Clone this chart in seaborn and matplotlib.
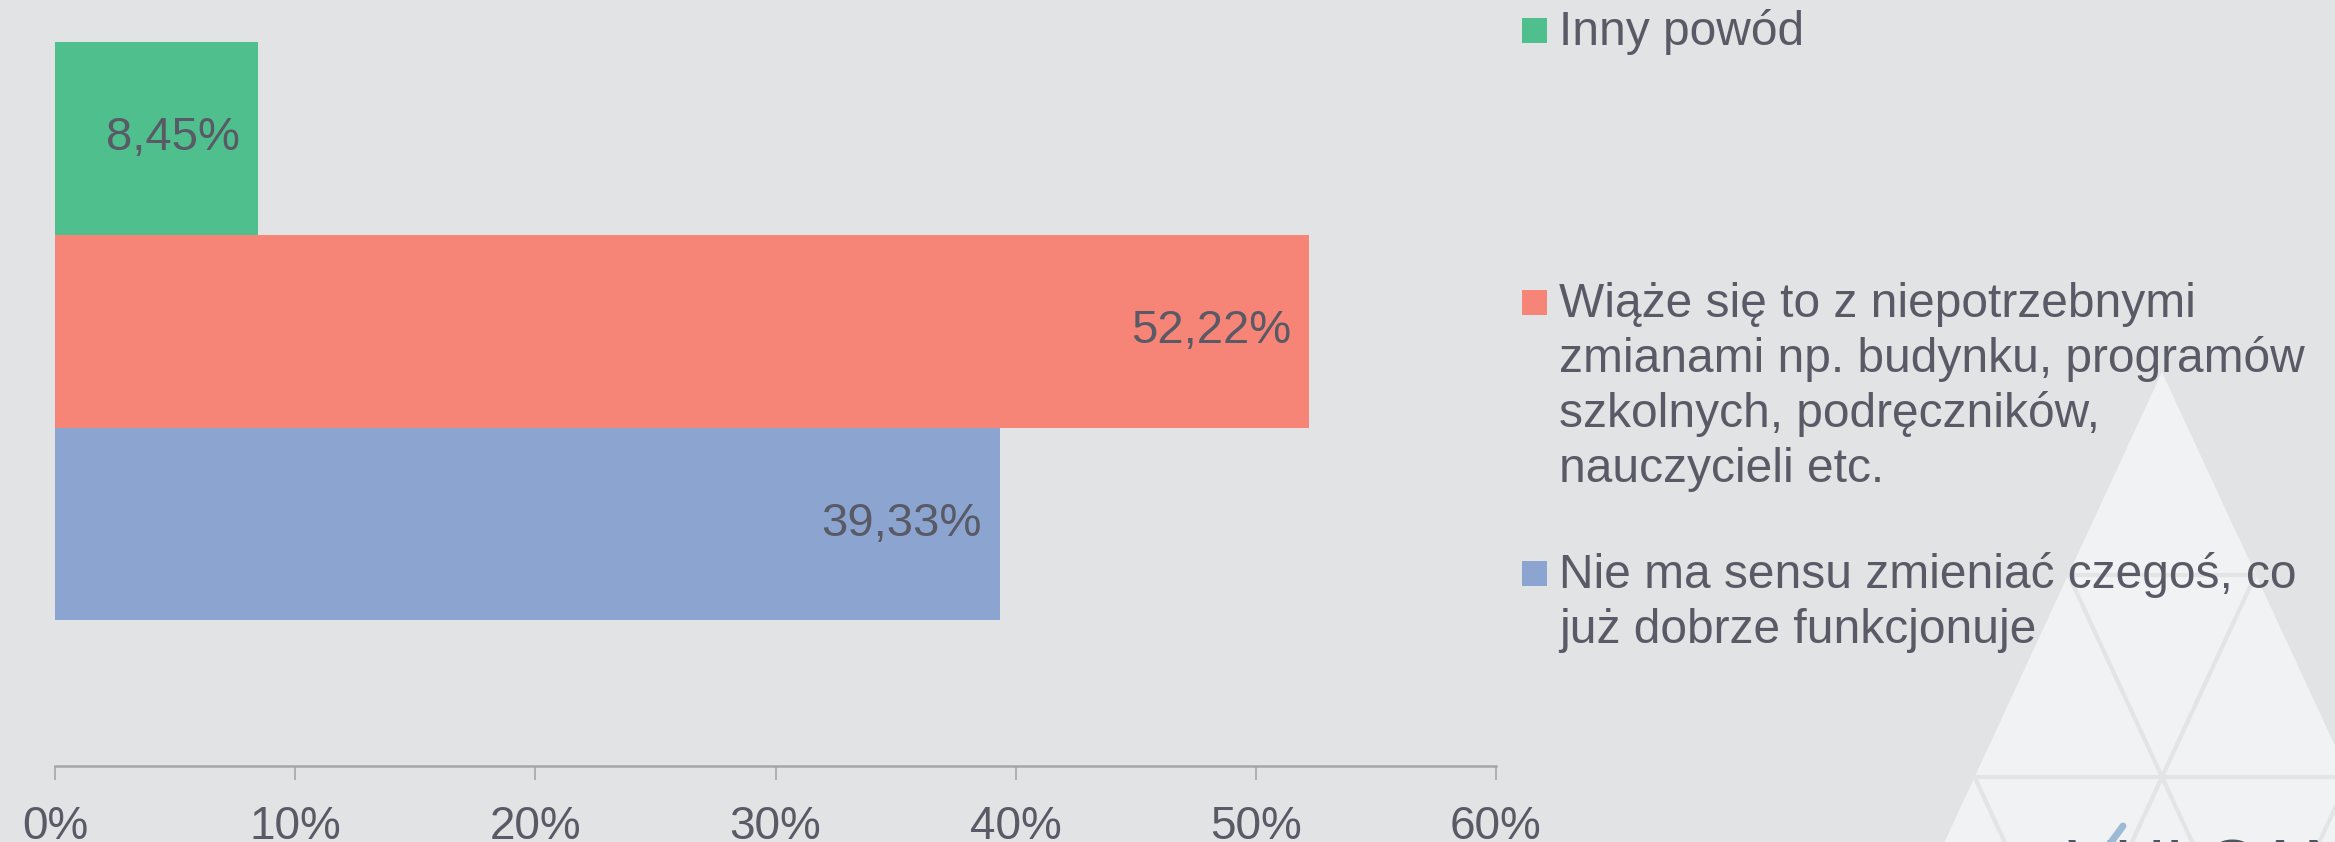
import matplotlib
matplotlib.use("Agg")
import matplotlib.pyplot as plt
from matplotlib.patches import Polygon, Rectangle
import seaborn as sns
import pandas as pd

# ---- data ----
categories = ["Inny powód",
              "Wiąże się to z niepotrzebnymi zmianami np. budynku, programów szkolnych, podręczników, nauczycieli etc.",
              "Nie ma sensu zmieniać czegoś, co już dobrze funkcjonuje"]
values = [8.45, 52.22, 39.33]
value_labels = ["8,45%", "52,22%", "39,33%"]
legend_lines = [["Inny powód"],
                ["Wiąże się to z niepotrzebnymi",
                 "zmianami np. budynku, programów",
                 "szkolnych, podręczników,",
                 "nauczycieli etc."],
                ["Nie ma sensu zmieniać czegoś, co",
                 "już dobrze funkcjonuje"]]
tick_values = [0, 10, 20, 30, 40, 50, 60]
tick_labels = ["0%", "10%", "20%", "30%", "40%", "50%", "60%"]
colors = ["#4FBF8E", "#F78577", "#8CA5D0"]

BG = "#E2E3E5"
TXT = "#595A66"
FS_TICK = 33
FS_BAR = 34
FS_LEG = 34.5

sns.set_theme(style="white")
plt.rcParams["font.family"] = ["Liberation Sans", "DejaVu Sans"]

W, H = 2335, 842
fig = plt.figure(figsize=(W / 100, H / 100), dpi=100, facecolor=BG)

# ---- background / watermark layer in pixel coordinates ----
bg = fig.add_axes([0, 0, 1, 1], zorder=0)
bg.set_xlim(0, W)
bg.set_ylim(H, 0)
bg.axis("off")

ax0, ay0, rh, hw, N = 2162, 372, 202.5, 93.7, 4

def lp(r, k):
    return (ax0 + (2 * k - r) * hw, ay0 + r * rh)

bg.add_patch(Polygon([lp(0, 0), lp(N, 0), lp(N, N)], closed=True,
                     facecolor="#F1F2F4", edgecolor="none", zorder=1))
lc = "#E3E4E6"
for r in range(1, N):
    (x1, y1), (x2, y2) = lp(r, 0), lp(r, r)
    bg.plot([x1, x2], [y1, y2], color=lc, lw=3, zorder=2, solid_capstyle="butt")
    (x1, y1), (x2, y2) = lp(r, r), lp(N, r)
    bg.plot([x1, x2], [y1, y2], color=lc, lw=3, zorder=2, solid_capstyle="butt")
    (x1, y1), (x2, y2) = lp(r, 0), lp(N, N - r)
    bg.plot([x1, x2], [y1, y2], color=lc, lw=3, zorder=2, solid_capstyle="butt")

bg.text(2068, 889, "VULCAN", fontsize=51, color="#4D5560", va="baseline",
        ha="left", zorder=3)
bg.plot([2109, 2123], [845, 826], color="#9DB9D3", lw=5, zorder=4)

# ---- legend (manual, Excel-like) ----
entry_tops = [45, 317, 588]
line_h = 55
for lines, y0, c in zip(legend_lines, entry_tops, colors):
    bg.add_patch(Rectangle((1522, y0 - 27), 25, 25, facecolor=c,
                           edgecolor="none", zorder=5))
    for i, ln in enumerate(lines):
        bg.text(1559, y0 + i * line_h, ln, fontsize=FS_LEG, color=TXT,
                va="baseline", ha="left", zorder=6)

# ---- main bar chart ----
ax = fig.add_axes([55 / W, 1 - 766 / H, (1496 - 55) / W, (766 - 42) / H], zorder=1)
ax.patch.set_alpha(0)

df = pd.DataFrame({"cat": categories, "val": values})
sns.barplot(data=df, x="val", y="cat", hue="cat", palette=colors, orient="h",
            width=1.0, saturation=1, legend=False, ax=ax, linewidth=0)

ax.set_xlim(0, 60)
ax.set_ylim(3.255, -0.5)
ax.set_xticks(tick_values)
ax.set_xticklabels(tick_labels)
ax.set_yticks([])
ax.set_xlabel("")
ax.set_ylabel("")
ax.tick_params(axis="x", length=10, width=1.2, color="#A6A6A6", pad=18,
               labelsize=FS_TICK, labelcolor=TXT, bottom=True)
for s in ["top", "left", "right"]:
    ax.spines[s].set_visible(False)
ax.spines["bottom"].set_color("#A6A6A6")
ax.spines["bottom"].set_linewidth(1.8)
ax.grid(False)

for cont, lab in zip(ax.containers, value_labels):
    txts = ax.bar_label(cont, labels=[lab], padding=-13, fontsize=FS_BAR, color=TXT)
    for t in txts:
        t.set_ha("right")

fig.savefig("out.png", dpi=100, facecolor=BG)
